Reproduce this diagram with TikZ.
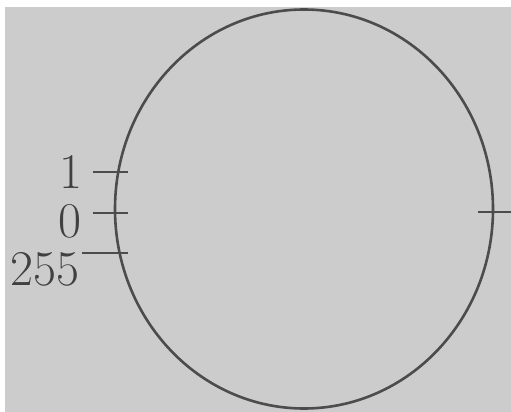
\documentclass[tikz,border=0pt]{standalone}
\usetikzlibrary{shapes.geometric}

\begin{document}
\begin{tikzpicture}[x=1pt,y=-1pt,line width=2.6pt]
        \tikzset{ink/.style={draw=black!70}, num/.style={font=\fontsize{50}{50}\selectfont, text=black!75, inner sep=0pt}}
        \useasboundingbox (0,0) rectangle (511,412);
        \fill[white] (0,0) rectangle (511,412);
        \fill[black!20] (5,7) rectangle (511,412);
        \node (dial) [ellipse, ink, minimum width=378pt, minimum height=399pt, inner sep=0pt] at (304,209) {};
        \node (one) [num] at (71,172) {1};
        \node (zero) [num] at (70,221) {0};
        \node (max) [num] at (45,269) {255};
        \coordinate (a1) at (93,172);
        \coordinate (b1) at (128,172);
        \coordinate (a0) at (93,213);
        \coordinate (b0) at (128,213);
        \coordinate (a255) at (82,253);
        \coordinate (b255) at (128,253);
        \coordinate (mark) at (478,212);
        \coordinate (edge) at (511,212);
        \draw[ink] (a1) -- (b1);
        \draw[ink] (a0) -- (b0);
        \draw[ink] (a255) -- (b255);
        \draw[ink] (mark) -- (edge);
    \end{tikzpicture}
\end{document}
